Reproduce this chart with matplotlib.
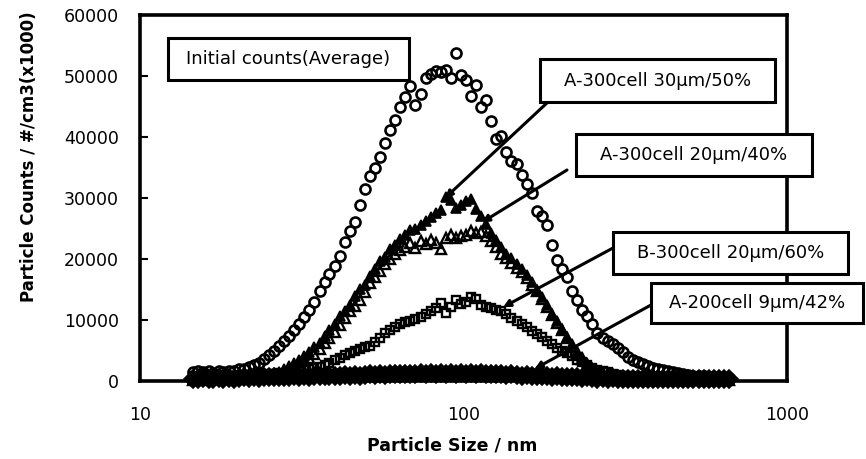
import numpy as np
import matplotlib
matplotlib.use('Agg')
import matplotlib.pyplot as plt
from matplotlib.patches import Rectangle

plt.rcParams['font.family'] = ['DejaVu Sans']

# SMPS channel mid-points (nm)
size_nm = [14.6, 15.1, 15.7, 16.3, 16.8, 17.5, 18.1, 18.8, 19.5, 20.2,
           20.9, 21.7, 22.5, 23.3, 24.1, 25.0, 25.9, 26.9, 27.9, 28.9,
           30.0, 31.1, 32.2, 33.4, 34.6, 35.9, 37.2, 38.5, 40.0, 41.4,
           42.9, 44.5, 46.1, 47.8, 49.6, 51.4, 53.3, 55.2, 57.3, 59.4,
           61.5, 63.8, 66.1, 68.5, 71.0, 73.7, 76.4, 79.1, 82.0, 85.1,
           88.2, 91.4, 94.7, 98.2, 101.8, 105.5, 109.4, 113.4, 117.6, 121.9,
           126.3, 131.0, 135.8, 140.7, 145.9, 151.2, 156.8, 162.5, 168.5, 174.7,
           181.1, 187.7, 194.6, 201.7, 209.1, 216.7, 224.7, 232.9, 241.4, 250.3,
           259.5, 269.0, 278.8, 289.0, 299.6, 310.6, 322.0, 333.8, 346.0, 358.7,
           371.8, 385.4, 399.5, 414.2, 429.4, 445.1, 461.4, 478.3, 495.8, 514.0,
           532.8, 552.3, 572.5, 593.5, 615.3, 637.8, 661.2]

# counts in units of 1000 (#/cm3 x1000)
initial_k = [1.5, 1.7, 1.4, 1.6, 1.3, 1.6, 1.5, 1.7, 1.6, 1.9,
             2.0, 2.3, 2.6, 3.0, 3.6, 4.3, 5.0, 5.8, 6.6, 7.4,
             8.3, 9.3, 10.5, 11.6, 13.0, 14.8, 16.2, 17.5, 18.9, 20.5,
             22.8, 24.6, 26.0, 28.9, 31.5, 33.6, 35.0, 36.8, 39.0, 41.2,
             42.8, 44.9, 46.5, 48.3, 45.2, 47.0, 49.6, 50.3, 50.8, 50.6,
             51.0, 49.7, 53.8, 50.2, 49.4, 46.8, 48.6, 44.9, 46.1, 42.6,
             39.6, 40.2, 37.6, 36.1, 35.6, 33.8, 32.3, 30.9, 27.8, 27.0,
             25.6, 22.3, 19.8, 18.4, 17.1, 14.7, 13.2, 11.7, 10.6, 9.4,
             7.8, 7.0, 6.6, 6.1, 5.4, 4.7, 4.0, 3.5, 3.1, 2.8,
             2.5, 2.2, 2.0, 1.8, 1.6, 1.4, 1.3, 1.2, 1.0, 0.9,
             0.8, 0.8, 0.7, 0.6, 0.6, 0.5, 0.5]

a300_30_k = [0.3, 0.4, 0.3, 0.5, 0.4, 0.5, 0.6, 0.5, 0.7, 0.6,
             0.8, 0.7, 0.9, 1.0, 0.9, 1.1, 1.3, 1.5, 1.9, 2.4,
             2.9, 3.4, 4.1, 4.8, 5.6, 6.3, 7.4, 8.3, 9.4, 10.6,
             11.5, 12.4, 14.0, 15.1, 15.8, 17.2, 18.3, 19.6, 20.4, 21.7,
             22.3, 23.2, 24.0, 24.7, 24.9, 25.6, 26.3, 26.9, 27.5, 28.1,
             30.2, 29.6, 28.4, 28.9, 29.5, 29.8, 28.2, 27.0, 25.8, 24.3,
             23.1, 22.0, 20.9, 20.1, 19.2, 18.4, 17.4, 16.3, 15.0, 13.8,
             12.4, 11.0, 9.8, 8.6, 7.2, 6.0, 4.9, 3.9, 3.0, 2.2,
             1.6, 1.1, 0.8, 0.6, 0.5, 0.4, 0.3, 0.3, 0.2, 0.2,
             0.2, 0.2, 0.1, 0.2, 0.1, 0.1, 0.2, 0.1, 0.1, 0.1,
             0.1, 0.1, 0.1, 0.1, 0.1, 0.1, 0.1]

a300_20_k = [0.2, 0.3, 0.2, 0.3, 0.3, 0.4, 0.3, 0.4, 0.5, 0.4,
             0.5, 0.6, 0.6, 0.7, 0.8, 0.9, 1.0, 1.2, 1.5, 1.8,
             2.2, 2.7, 3.2, 3.8, 4.5, 5.3, 6.2, 7.1, 8.1, 9.2,
             10.4, 11.4, 12.3, 13.2, 14.6, 16.0, 17.0, 18.0, 19.2, 20.0,
             20.8, 21.5, 22.0, 22.6, 21.8, 23.0, 22.4, 23.1, 22.7, 21.6,
             23.5, 23.9, 23.4, 23.8, 24.0, 24.6, 24.2, 24.5, 23.8, 23.0,
             21.9, 20.9, 20.1, 19.3, 18.6, 17.8, 16.9, 15.8, 14.7, 13.4,
             12.2, 10.8, 9.5, 8.3, 7.0, 5.8, 4.6, 3.6, 2.7, 2.0,
             1.4, 1.0, 0.7, 0.5, 0.4, 0.3, 0.3, 0.2, 0.3, 0.2,
             0.2, 0.2, 0.1, 0.2, 0.1, 0.1, 0.1, 0.1, 0.1, 0.1,
             0.1, 0.1, 0.1, 0.1, 0.1, 0.1, 0.1]

b300_20_k = [0.9, 0.7, 1.0, 0.8, 0.9, 0.7, 1.0, 0.8, 0.9, 1.0,
             0.8, 1.0, 0.9, 1.1, 1.0, 1.2, 1.1, 1.3, 1.2, 1.4,
             1.5, 1.6, 1.8, 1.9, 2.1, 2.3, 2.7, 3.0, 3.4, 3.8,
             4.3, 4.6, 4.9, 5.2, 5.5, 5.8, 6.4, 7.0, 7.8, 8.4,
             8.9, 9.3, 9.6, 9.9, 10.2, 10.5, 11.0, 11.4, 12.0, 12.8,
             11.1, 12.2, 13.2, 12.6, 13.0, 13.8, 13.4, 12.5, 12.1, 12.0,
             11.7, 11.5, 11.0, 10.3, 9.8, 9.3, 8.8, 8.2, 7.7, 7.2,
             6.6, 6.0, 5.4, 5.0, 4.6, 4.1, 3.5, 3.1, 2.6, 2.1,
             1.8, 1.6, 1.4, 1.2, 1.0, 0.9, 0.8, 0.7, 0.6, 0.5,
             0.5, 0.4, 0.4, 0.4, 0.3, 0.3, 0.3, 0.3, 0.3, 0.2,
             0.2, 0.2, 0.2, 0.2, 0.2, 0.2, 0.2]

a200_9_k = [0.4, 0.3, 0.5, 0.4, 0.3, 0.5, 0.4, 0.5, 0.4, 0.5,
            0.6, 0.5, 0.6, 0.5, 0.6, 0.7, 0.6, 0.7, 0.6, 0.7,
            0.8, 0.7, 0.8, 0.7, 0.8, 0.9, 0.8, 0.9, 0.8, 0.9,
            1.0, 0.9, 1.0, 0.9, 1.0, 1.1, 1.0, 1.1, 1.0, 1.1,
            1.2, 1.1, 1.2, 1.1, 1.2, 1.3, 1.2, 1.3, 1.2, 1.3,
            1.2, 1.3, 1.2, 1.3, 1.2, 1.3, 1.2, 1.3, 1.2, 1.1,
            1.2, 1.1, 1.0, 1.1, 1.0, 0.9, 1.0, 0.9, 0.8, 0.9,
            0.8, 0.7, 0.8, 0.7, 0.6, 0.7, 0.6, 0.5, 0.6, 0.5,
            0.4, 0.5, 0.4, 0.5, 0.4, 0.3, 0.4, 0.3, 0.4, 0.3,
            0.4, 0.3, 0.4, 0.3, 0.4, 0.3, 0.3, 0.4, 0.3, 0.4,
            0.3, 0.3, 0.4, 0.3, 0.4, 0.3, 0.3]

series_labels = ['Initial counts(Average)', 'A-300cell 30μm/50%',
                 'A-300cell 20μm/40%', 'B-300cell 20μm/60%',
                 'A-200cell 9μm/42%']

W, H = 866, 459
fig = plt.figure(figsize=(W / 100, H / 100), dpi=100)
ax = fig.add_axes([140 / W, 1 - 381 / H, (787 - 140) / W, (381 - 15) / H])

x = np.array(size_nm)
ax.plot(x, np.array(initial_k) * 1000, ls='none', marker='o', ms=7.2,
        mfc='none', mec='k', mew=1.9, clip_on=False)
ax.plot(x, np.array(a300_30_k) * 1000, ls='none', marker='^', ms=7,
        mfc='k', mec='k', mew=1.2, clip_on=False)
ax.plot(x, np.array(a300_20_k) * 1000, ls='none', marker='^', ms=6.5,
        mfc='none', mec='k', mew=1.7, clip_on=False)
ax.plot(x, np.array(b300_20_k) * 1000, ls='none', marker='s', ms=6,
        mfc='none', mec='k', mew=1.7, clip_on=False)
ax.plot(x, np.array(a200_9_k) * 1000, ls='none', marker='D', ms=9,
        mfc='k', mec='k', mew=1.2, clip_on=False)

ax.set_xscale('log')
ax.set_xlim(10, 1000)
ax.set_ylim(0, 60000)
ax.set_yticks(np.arange(0, 60001, 10000))
ax.set_xticks([10, 100, 1000])
ax.set_xticklabels(['10', '100', '1000'])
ax.xaxis.set_minor_locator(plt.NullLocator())
ax.tick_params(axis='y', direction='in', length=6, width=1.5, pad=15,
               labelsize=12.5)
ax.tick_params(axis='x', direction='in', length=0, pad=18, labelsize=12.5)
for s in ax.spines.values():
    s.set_linewidth(2.6)

fig.text(452 / W, 1 - 445 / H, 'Particle Size / nm', ha='center',
         va='center', fontsize=12.5, fontweight='bold')
fig.text(29 / W, 1 - 157 / H, 'Particle Counts / #/cm3(x1000)',
         ha='center', va='center', rotation=90, fontsize=12,
         fontweight='bold')


def label_box(x0, y0, x1, y1, text):
    # box given in pixels from the top-left corner of the figure
    fig.patches.append(Rectangle((x0 / W, 1 - y1 / H), (x1 - x0) / W,
                                 (y1 - y0) / H, transform=fig.transFigure,
                                 fc='white', ec='black', lw=2.2, zorder=5))
    fig.text((x0 + x1) / 2 / W, 1 - (y0 + y1) / 2 / H, text, ha='center',
             va='center', fontsize=13, zorder=6)


def pointer(px, py, tip):
    ax.annotate('', xy=tip, xycoords='data', xytext=(px, H - py),
                textcoords='figure pixels', annotation_clip=False,
                arrowprops=dict(arrowstyle='-|>', color='k', lw=2.2,
                                mutation_scale=10, shrinkA=0, shrinkB=0))


pointer(548, 102, (87.7, 30000))
pointer(567, 170, (114, 26000))
pointer(613, 248, (132.5, 12100))
pointer(651, 305, (166, 2000))

label_box(168, 38, 409, 80, series_labels[0])
label_box(540, 59, 775, 102, series_labels[1])
label_box(576, 134, 812, 176, series_labels[2])
label_box(613, 232, 848, 274, series_labels[3])
label_box(651, 283, 863, 323, series_labels[4])

fig.savefig('out.png', dpi=100)
